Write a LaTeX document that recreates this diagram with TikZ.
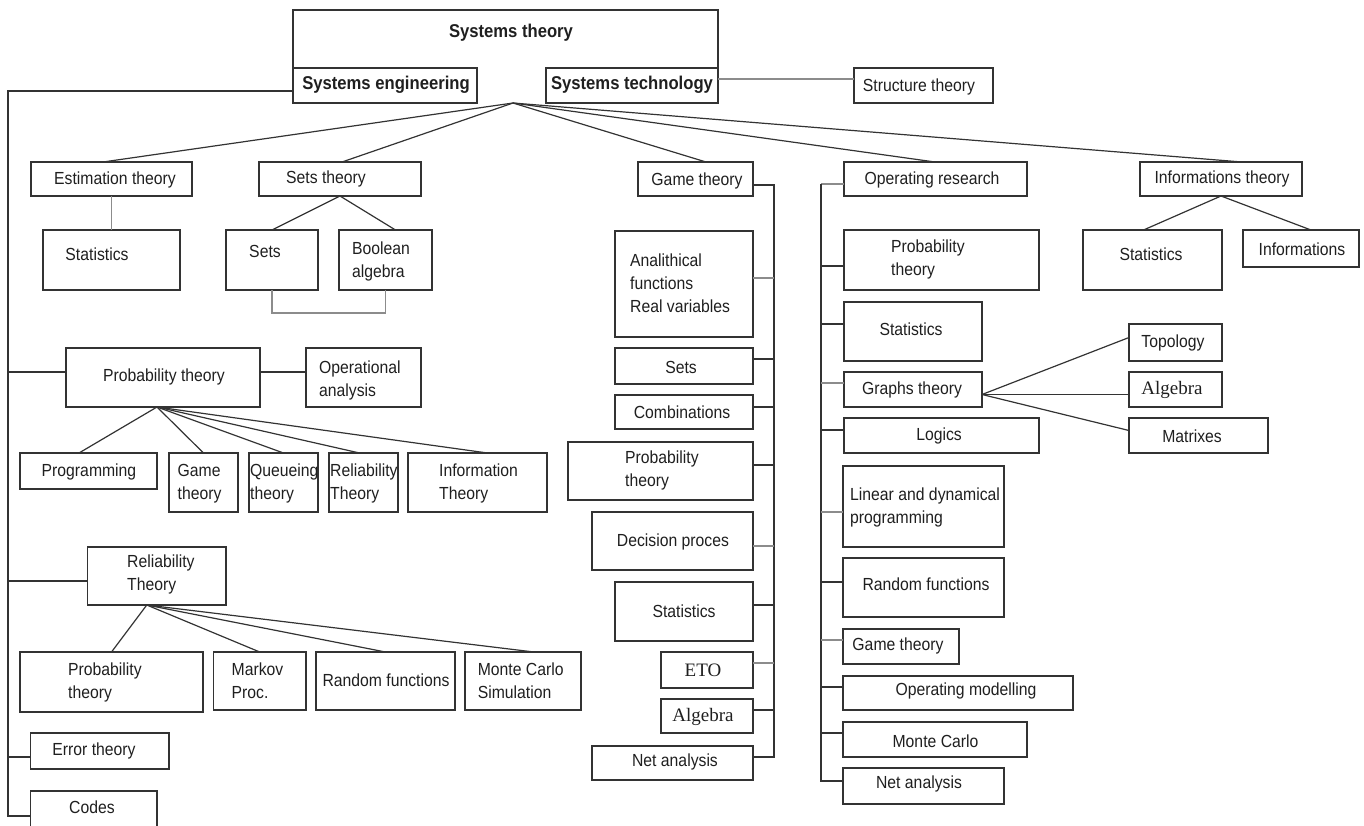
\documentclass[tikz,border=0pt]{standalone}
\usepackage{fontspec}
\setmainfont{Liberation Sans}[FakeStretch=0.9]
\newfontfamily\serifA{Liberation Serif}
\usetikzlibrary{calc}
\tikzset{
 bx/.style={draw=black!80, line width=1.3pt, rectangle, inner sep=0pt, outer sep=0pt},
 tx/.style={inner sep=0pt, font=\fontsize{17.5}{23}\selectfont, text=black!88, align=left},
 tb/.style={tx, font=\fontsize{18.5}{22}\selectfont\bfseries},
 ts/.style={tx, font=\fontsize{19}{22}\selectfont\serifA},
 ln/.style={draw=black!80, line width=1.2pt},
 lg/.style={draw=black!45, line width=1.2pt},
}
\newcommand\bx[5]{\node[bx, minimum width={(#4-#2)*1pt}, minimum height={(#5-#3)*1pt}] (#1) at ({(#2+#4)/2},{(#3+#5)/2}) {};}
\begin{document}
\begin{tikzpicture}[x=1pt,y=-1pt]
\useasboundingbox (0,0) rectangle (1364,825);
\clip (0,0) rectangle (1364,825);
% ---- top
\bx{se}{293}{68}{477}{103}
\bx{stc}{546}{68}{718}{103}
\bx{strt}{854}{68}{993}{103}
\draw[bx] (se.north west) -- (se.north west |- 0,10) -- (stc.north east |- 0,10) -- (stc.north east);
\node[tb] (st) at (511,33) {Systems theory};
\node[tb] (se-t) at (386,85) {Systems engineering};
\node[tb] (stc-t) at (632,85) {Systems technology};
\node[tx] (strt-t) at (919,87) {Structure theory};
\draw[lg] (stc.east |- 0,79) -- (strt.west |- 0,79);
% ---- second row
\bx{est}{31}{162}{192}{196}
\bx{sett}{259}{162}{421}{196}
\bx{game}{638}{162}{753}{196}
\bx{opr}{844}{162}{1027}{196}
\bx{inft}{1140}{162}{1302}{196}
\node[tx] (est-t) at (115,180) {Estimation theory};
\node[tx] (sett-t) at (326,179) {Sets theory};
\node[tx] (game-t) at (697,181) {Game theory};
\node[tx] (opr-t) at (932,180) {Operating research};
\node[tx] (inft-t) at (1222,179) {Informations theory};
\coordinate (o) at (513,103);
\draw[ln] (o) -- ($(est.north west)+(72,0)$);
\draw[ln] (o) -- ($(sett.north west)+(83,0)$);
\draw[ln] (o) -- ($(game.north west)+(68,0)$);
\draw[ln] (o) -- ($(opr.north west)+(91,0)$);
\draw[ln] (o) -- ($(inft.north west)+(102,0)$);
% ---- estimation / sets
\bx{stat1}{43}{230}{180}{290}
\node[tx] (stat1-t) at (97,254) {Statistics};
\draw[lg] (est.south) -- (stat1.north);
\bx{sets}{226}{230}{318}{290}
\bx{bool}{339}{230}{432}{290}
\node[tx] (sets-t) at (265,251) {Sets};
\node[tx,anchor=west] (bool-t) at (352,261) {Boolean\\algebra};
\draw[ln] (sett.south) -- (sets.north);
\draw[ln] (sett.south) -- ($(bool.north)+(10,0)$);
\draw[lg] (sets.south) -- ++(0,23) -| (bool.south);
% ---- informations theory
\bx{stat2}{1083}{230}{1222}{290}
\bx{infs}{1243}{230}{1359}{267}
\node[tx] (stat2-t) at (1151,254) {Statistics};
\node[tx] (infs-t) at (1302,249) {Informations};
\draw[ln] (inft.south) -- ($(stat2.north)+(-9,0)$);
\draw[ln] (inft.south) -- ($(infs.north)+(10,0)$);
% ---- left trunk
\bx{prob}{66}{348}{260}{407}
\bx{opa}{306}{348}{421}{407}
\node[tx] (prob-t) at (164,377) {Probability theory};
\node[tx,anchor=west] (opa-t) at (319,380) {Operational\\analysis};
\bx{prog}{20}{453}{157}{489}
\bx{game2}{169}{453}{238}{512}
\bx{queue}{249}{453}{318}{512}
\bx{relT}{329}{453}{398}{512}
\bx{infoT}{408}{453}{547}{512}
\node[tx] (prog-t) at (89,472) {Programming};
\node[tx,anchor=west] (game2-t) at (177.5,483.5) {Game\\theory};
\node[tx,anchor=west] (queue-t) at (250,483.5) {Queueing\\theory};
\node[tx,anchor=west] (relT-t) at (330,483.5) {Reliability\\Theory};
\node[tx,anchor=west] (infoT-t) at (439,483.5) {Information\\Theory};
\coordinate (po) at ($(prob.south)+(-6,0)$);
\draw[ln] (po) -- ($(prog.north)+(-9.5,0)$);
\draw[ln] (po) -- (game2.north);
\draw[ln] (po) -- (queue.north);
\draw[ln] (po) -- ($(relT.north)+(-4,0)$);
\draw[ln] (po) -- ($(infoT.north)+(10,0)$);
\draw[ln] (prob.east |- 0,372) -- (opa.west |- 0,372);
\bx{rel}{87.5}{547}{226}{605}
\node[tx,anchor=west] (rel-t) at (127,574) {Reliability\\Theory};
\bx{prob3}{20}{652}{203}{712}
\bx{markov}{213.5}{652}{306}{710}
\bx{random}{316}{652}{455}{710}
\bx{monte}{465}{652}{581}{710}
\node[tx,anchor=west] (prob3-t) at (68,682.5) {Probability\\theory};
\node[tx,anchor=west] (markov-t) at (231.5,680.5) {Markov\\Proc.};
\node[tx] (random-t) at (386,680) {Random functions};
\node[tx,anchor=west] (monte-t) at (477.6,680.5) {Monte Carlo\\Simulation};
\coordinate (ro) at ($(rel.south)+(-10,0)$);
\draw[ln] (ro) -- (prob3.north);
\draw[ln] (ro) -- (markov.north);
\draw[ln] (ro) -- (random.north);
\draw[ln] (ro) -- ($(monte.north)+(11,0)$);
\bx{err}{30.6}{733}{169}{769}
\bx{codes}{30.6}{791}{157}{840}
\node[tx] (err-t) at (94,751) {Error theory};
\node[tx] (codes-t) at (92,807) {Codes};
\coordinate (ltr) at (8,91);
\draw[ln] (se.west |- ltr) -- (ltr) -- (ltr |- 0,816) -- (codes.west |- 0,816);
\draw[ln] (ltr |- 0,372) -- (prob.west |- 0,372);
\draw[ln] (ltr |- 0,581) -- (rel.west |- 0,581);
\draw[ln] (ltr |- 0,757) -- (err.west |- 0,757);
% ---- game theory column
\bx{anal}{615}{231}{753}{337}
\bx{sets2}{615}{348}{753}{384}
\bx{comb}{615}{395}{753}{429}
\bx{prob2}{568}{442}{753}{500}
\bx{dec}{592}{512}{753}{570}
\bx{stat3}{615}{582}{753}{641}
\bx{eto}{661}{652}{753}{688}
\bx{alg2}{661}{699}{753}{733}
\bx{net1}{592}{746}{753}{780}
\node[tx,anchor=west] (anal-t) at (630,283) {Analithical\\functions\\Real variables};
\node[tx] (sets2-t) at (681,367) {Sets};
\node[tx] (comb-t) at (682,412) {Combinations};
\node[tx,anchor=west] (prob2-t) at (625,470) {Probability\\theory};
\node[tx] (dec-t) at (673,542) {Decision proces};
\node[tx] (stat3-t) at (684,611) {Statistics};
\node[ts] (eto-t) at (703,670) {ETO};
\node[ts] (alg2-t) at (703,717) {Algebra};
\node[tx] (net1-t) at (675,762) {Net analysis};
\coordinate (gtr) at (774,185);
\draw[ln] (game.east |- gtr) -- (gtr) -- (gtr |- 0,757) -- (net1.east |- 0,757);
\draw[lg] (gtr |- 0,278) -- (anal.east |- 0,278);
\draw[ln] (gtr |- 0,359) -- (sets2.east |- 0,359);
\draw[ln] (gtr |- 0,407) -- (comb.east |- 0,407);
\draw[ln] (gtr |- 0,465) -- (prob2.east |- 0,465);
\draw[lg] (gtr |- 0,546) -- (dec.east |- 0,546);
\draw[ln] (gtr |- 0,605) -- (stat3.east |- 0,605);
\draw[lg] (gtr |- 0,663) -- (eto.east |- 0,663);
\draw[ln] (gtr |- 0,710) -- (alg2.east |- 0,710);
% ---- operating research column
\bx{prob4}{844}{230}{1039}{290}
\bx{stat4}{844}{302}{982}{361}
\bx{graphs}{844}{372}{982}{407}
\bx{logics}{844}{418}{1039}{453}
\bx{linear}{843}{466}{1004}{547}
\bx{random2}{843}{558}{1004}{617}
\bx{game3}{843}{629}{959}{664}
\bx{opmod}{843}{676}{1073}{710}
\bx{monte2}{843}{722}{1027}{757}
\bx{net2}{843}{768}{1004}{804}
\node[tx,anchor=west] (prob4-t) at (891,259) {Probability\\theory};
\node[tx] (stat4-t) at (911,329) {Statistics};
\node[tx] (graphs-t) at (912,390) {Graphs theory};
\node[tx] (logics-t) at (939,436) {Logics};
\node[tx,anchor=west] (linear-t) at (850,507) {Linear and dynamical\\programming};
\node[tx] (random2-t) at (926,584) {Random functions};
\node[tx] (game3-t) at (898,646) {Game theory};
\node[tx] (opmod-t) at (966,691) {Operating modelling};
\node[tx] (monte2-t) at (935.5,741) {Monte Carlo};
\node[tx] (net2-t) at (919,784) {Net analysis};
\coordinate (otr) at (821,184);
\draw[lg] (otr) -- (opr.west |- otr);
\draw[ln] (otr) -- (otr |- 0,781) -- (net2.west |- 0,781);
\draw[ln] (otr |- 0,266) -- (prob4.west |- 0,266);
\draw[ln] (otr |- 0,324) -- (stat4.west |- 0,324);
\draw[lg] (otr |- 0,383) -- (graphs.west |- 0,383);
\draw[ln] (otr |- 0,430) -- (logics.west |- 0,430);
\draw[lg] (otr |- 0,512) -- (linear.west |- 0,512);
\draw[ln] (otr |- 0,582) -- (random2.west |- 0,582);
\draw[lg] (otr |- 0,640) -- (game3.west |- 0,640);
\draw[ln] (otr |- 0,687) -- (opmod.west |- 0,687);
\draw[ln] (otr |- 0,733) -- (monte2.west |- 0,733);
% ---- graphs theory
\bx{topo}{1129}{324}{1222}{361}
\bx{alg}{1129}{372}{1222}{407}
\bx{matr}{1129}{418}{1268}{453}
\node[tx] (topo-t) at (1173,343) {Topology};
\node[ts] (alg-t) at (1172,390) {Algebra};
\node[tx] (matr-t) at (1192,436) {Matrixes};
\coordinate (go) at ($(graphs.east)+(0,5)$);
\draw[ln] (go) -- ($(topo.west)+(0,-5)$);
\draw[ln] (go) -- ($(alg.west)+(0,5)$);
\draw[ln] (go) -- ($(matr.west)+(0,-5)$);
\end{tikzpicture}
\end{document}
